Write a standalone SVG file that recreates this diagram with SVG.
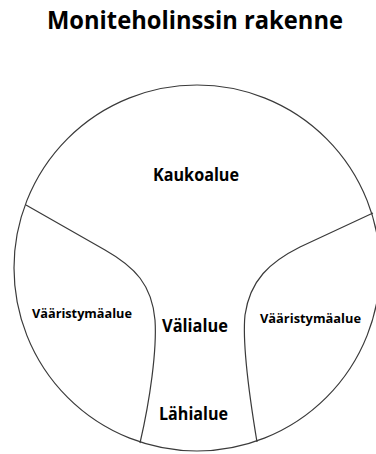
<svg xmlns="http://www.w3.org/2000/svg" width="376" height="454" viewBox="0 0 376 454">
<style>
.t{font-family:"Open Sans","Liberation Sans",sans-serif;font-weight:bold;fill:#000;text-anchor:middle}
.ln{fill:none;stroke:#3a3a3a;stroke-width:1.2}
</style>
<rect width="376" height="454" fill="#fff"/>
<g id="title"><text class="t" x="195" y="29" font-size="25" textLength="296" lengthAdjust="spacingAndGlyphs">Moniteholinssin rakenne</text></g>
<g id="lens"><circle class="ln" cx="197" cy="268" r="183"/></g>
<g id="boundaries">
<path class="ln" d="M26,205 L105,250 C135,267 152,285 155,320 C157,350 150,400 140,443"/>
<path class="ln" d="M373,213 L300,247 C270,262 250,280 245,315 C242,345 250,400 257,442"/>
</g>
<g id="kaukoalue"><text class="t" x="196" y="181" font-size="17" textLength="86" lengthAdjust="spacingAndGlyphs">Kaukoalue</text></g>
<g id="vaaristyma-vasen"><text class="t" x="82" y="318" font-size="12.5" textLength="100" lengthAdjust="spacingAndGlyphs">Vääristymäalue</text></g>
<g id="vaaristyma-oikea"><text class="t" x="310.5" y="322.5" font-size="12.5" textLength="101" lengthAdjust="spacingAndGlyphs">Vääristymäalue</text></g>
<g id="valialue"><text class="t" x="195" y="331.5" font-size="17" textLength="66" lengthAdjust="spacingAndGlyphs">Välialue</text></g>
<g id="lahialue"><text class="t" x="193.5" y="420" font-size="17" textLength="69" lengthAdjust="spacingAndGlyphs">Lähialue</text></g>
</svg>
